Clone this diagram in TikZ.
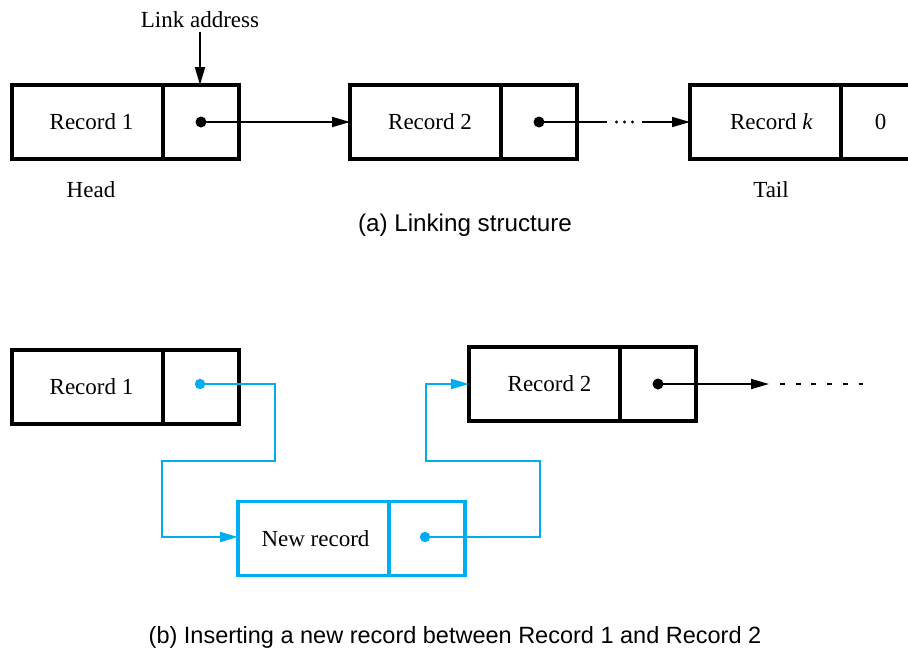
\documentclass[tikz,border=0pt]{standalone}
\usepackage{fontspec}
\setmainfont{Liberation Serif}
\setsansfont{Liberation Sans}
\usetikzlibrary{arrows.meta}
\definecolor{linkblue}{RGB}{0,174,239}
\begin{document}
\begin{tikzpicture}[x=1pt,y=-1pt,
  field/.style={draw, line width=3.2pt, minimum height=74pt, inner sep=0pt,
    outer sep=0pt, font=\fontsize{23}{27}\selectfont},
  datafield/.style={field, minimum width=151pt, anchor=west},
  ptrfield/.style={field, minimum width=76pt, anchor=west},
  newfield/.style={draw=linkblue, line width=3.2pt},
  label/.style={font=\fontsize{23}{27}\selectfont},
  caption/.style={font=\sffamily\fontsize{23.5}{28}\selectfont},
  tip/.style={-{Triangle[length=18pt,width=10pt]}},
  link/.style={line width=1.8pt, tip},
  bluelink/.style={draw=linkblue, line width=2pt,
    -{Triangle[length=18pt,width=10pt,color=linkblue]}},
]
\useasboundingbox (0,0) rectangle (908,651);
\clip (0,0) rectangle (908,651);

% ---------- (a) linking structure ----------
\node[datafield] (ra1) at (12,122) {\hspace*{8pt}Record 1};
\node[ptrfield] (pa1) at (ra1.east) {};
\node[datafield] (ra2) at (350,122) {\hspace*{9pt}Record 2};
\node[ptrfield] (pa2) at (ra2.east) {};
\node[datafield] (rak) at (690,122) {\hspace*{12pt}Record \textit{k}};
\node[ptrfield] (pak) at (rak.east) {\hspace*{3pt}0};

\node[label] (linkaddr) at (200,20) {Link address};
\draw[link] (linkaddr.south) -- (linkaddr.south |- pa1.north);

\fill (pa1.center) circle[radius=5.5pt];
\fill (pa2.center) circle[radius=5.5pt];
\draw[link] (pa1.center) -- (ra2.west);

% elided part of the list
\node[inner sep=0pt, minimum width=35pt, minimum height=6pt] (gap) at (624.5,122) {};
\foreach \dx in {-8,0,8} \fill ([xshift=\dx pt]gap.center) circle[radius=1.6pt];
\draw[line width=1.8pt] (pa2.center) -- (gap.west);
\draw[link] (gap.east) -- (rak.west);

\node[label] (head) at (91,190) {Head};
\node[label] (tail) at (771,190) {Tail};
\node[caption, font=\sffamily\fontsize{24.2}{28}\selectfont] (capa) at (465,225) {(a) Linking structure};

% ---------- (b) inserting a new record ----------
\node[datafield] (rb1) at (12,387) {\hspace*{8pt}Record 1};
\node[ptrfield] (pb1) at (rb1.east) {};
\node[datafield] (rb2) at (469,384) {\hspace*{10pt}Record 2};
\node[ptrfield] (pb2) at (rb2.east) {};
\node[datafield, newfield] (nr) at (238,538.5) {\hspace*{4pt}New record};
\node[ptrfield, newfield] (pn) at (nr.east) {};

\coordinate (d1) at (200,384);
\coordinate (dn) at (425,537);
\coordinate (d2) at (658,384);
\coordinate (tip2) at (769,384);
\coordinate (dashend) at (863,384);

% old pointer of Record 2 continuing down the list
\fill (d2) circle[radius=5.5pt];
\draw[link] (d2) -- (tip2);
\draw[line width=1.8pt, dash pattern=on 5pt off 10.7pt] ([xshift=11pt]tip2) -- (dashend);

% new links
\fill[linkblue] (d1) circle[radius=5.2pt];
\fill[linkblue] (dn) circle[radius=5.2pt];
\draw[bluelink] (d1) -- (275,384) -- (275,461) -- (162,461) -- (162,537) -- (nr.west |- dn);
\draw[bluelink] (dn) -- (540,537) -- (540,461) -- (426,461) -- (426,384) -- (rb2.west |- d2);

\node[caption] (capb) at (455,637) {(b) Inserting a new record between Record 1 and Record 2};
\end{tikzpicture}
\end{document}
